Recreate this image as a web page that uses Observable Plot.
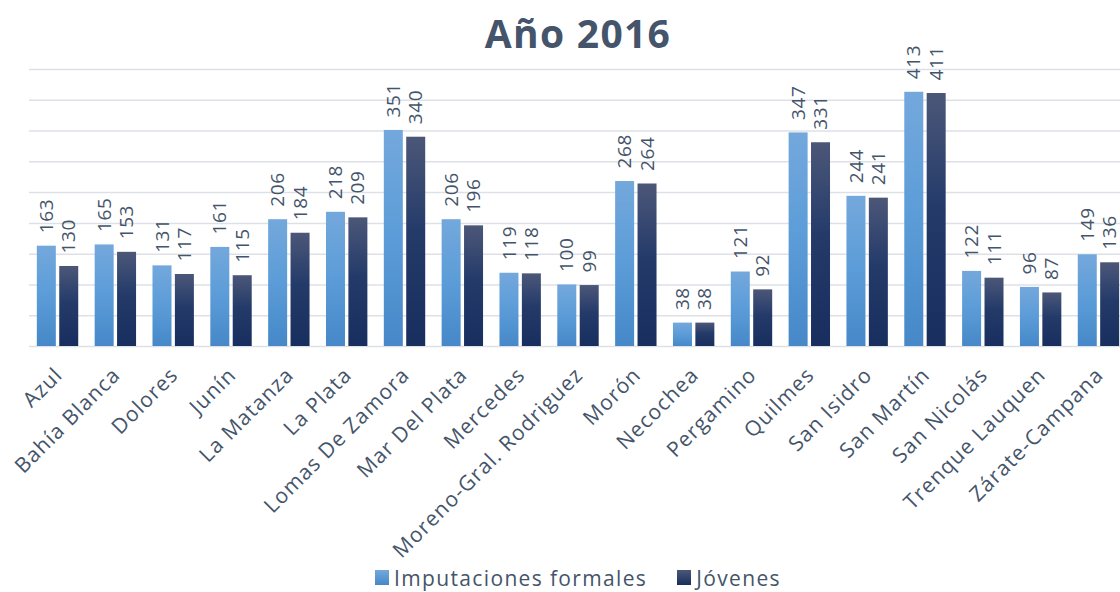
<!DOCTYPE html>
<html>
<head>
<meta charset="utf-8">
<script src="https://cdn.jsdelivr.net/npm/d3@7"></script>
<script src="https://cdn.jsdelivr.net/npm/@observablehq/plot@0.6"></script>
<style>
  html, body { margin: 0; padding: 0; background: #fff; overflow: hidden; }
  #wrap { position: relative; width: 1120px; height: 592px; font-family: "Open Sans", sans-serif; color: #44546a; }
  #title { position: absolute; left: 18px; width: 1120px; top: 8px; text-align: center; font-size: 39px; letter-spacing: 1.3px; font-weight: 700; color: #44546a; line-height: 50px; z-index: 2; }
  #chart { position: absolute; left: 0; top: 0; }
  #legend { position: absolute; left: 18px; width: 1120px; top: 564px; text-align: center; font-size: 21px; letter-spacing: 1.35px; line-height: 26px; }
  .item { display: inline-flex; align-items: center; margin: 0 15px; }
  .sw { display: inline-block; width: 14px; height: 15px; margin-right: 5px; }
</style>
</head>
<body>
<div id="wrap">
  <div id="title">Año 2016</div>
  <div id="chart"></div>
  <div id="legend"></div>
</div>
<script>
const categories = ["Azul", "Bahía Blanca", "Dolores", "Junín", "La Matanza", "La Plata", "Lomas De Zamora", "Mar Del Plata", "Mercedes", "Moreno-Gral. Rodriguez", "Morón", "Necochea", "Pergamino", "Quilmes", "San Isidro", "San Martín", "San Nicolás", "Trenque Lauquen", "Zárate-Campana"];
const imputaciones = [163, 165, 131, 161, 206, 218, 351, 206, 119, 100, 268, 38, 121, 347, 244, 413, 122, 96, 149];
const jovenes = [130, 153, 117, 115, 184, 209, 340, 196, 118, 99, 264, 38, 92, 331, 241, 411, 111, 87, 136];
const seriesNames = ["Imputaciones formales", "Jóvenes"];
const gridTicks = [0, 50, 100, 150, 200, 250, 300, 350, 400, 450];

const dataA = categories.map((c, i) => ({cat: c, v: imputaciones[i]}));
const dataB = categories.map((c, i) => ({cat: c, v: jovenes[i]}));

const textColor = "#44546a";
const font = "Open Sans";

const chart = Plot.plot({
  width: 1120,
  height: 560,
  marginTop: 69,
  marginBottom: 214,
  marginLeft: 29,
  marginRight: 0,
  style: {fontFamily: font, color: textColor, background: "transparent", overflow: "visible"},
  x: {type: "band", domain: categories, range: [9.2, 1146.8], padding: 0.6715, round: false, label: null},
  y: {domain: [0, 450], axis: null},
  marks: [
    Plot.ruleY(gridTicks, {stroke: "#dde1e7", strokeWidth: 1.5}),
    Plot.barY(dataA, {x: "cat", y: "v", fill: "url(#gradA)", dx: -11.2}),
    Plot.barY(dataB, {x: "cat", y: "v", fill: "url(#gradB)", dx: 11.2}),
    Plot.text(dataA, {x: "cat", y: "v", text: d => String(d.v), rotate: -90, textAnchor: "start", dx: -11.2, dy: -13, fontSize: 19, fill: textColor, className: "vlab"}),
    Plot.text(dataB, {x: "cat", y: "v", text: d => String(d.v), rotate: -90, textAnchor: "start", dx: 11.2, dy: -13, fontSize: 19, fill: textColor, className: "vlab"}),
    Plot.axisX({tickRotate: -45, tickSize: 0, tickPadding: 8, fontSize: 21, fill: textColor, label: null, dx: 1, dy: 17, className: "xlab"})
  ]
});

// gradients
const ns = "http://www.w3.org/2000/svg";
const defs = document.createElementNS(ns, "defs");
function grad(id, stops) {
  const g = document.createElementNS(ns, "linearGradient");
  g.setAttribute("id", id);
  g.setAttribute("x1", "0"); g.setAttribute("y1", "0");
  g.setAttribute("x2", "0"); g.setAttribute("y2", "1");
  for (const [o, c] of stops) {
    const s = document.createElementNS(ns, "stop");
    s.setAttribute("offset", o);
    s.setAttribute("stop-color", c);
    g.appendChild(s);
  }
  defs.appendChild(g);
}
grad("gradA", [["0", "#74a8dc"], ["0.5", "#5b9cd8"], ["1", "#4688c8"]]);
grad("gradB", [["0", "#4c5778"], ["0.45", "#243b6a"], ["1", "#182e5e"]]);
chart.insertBefore(defs, chart.firstChild);
chart.querySelectorAll(".vlab text").forEach(t => t.style.letterSpacing = "0.6px");
chart.querySelectorAll(".xlab text").forEach(t => t.style.letterSpacing = "1.1px");

document.getElementById("chart").appendChild(chart);

const legend = document.getElementById("legend");
const swatches = ["linear-gradient(#74a8dc, #4688c8)", "linear-gradient(#4c5778, #182e5e)"];
seriesNames.forEach((name, i) => {
  const item = document.createElement("span");
  item.className = "item";
  const sw = document.createElement("span");
  sw.className = "sw";
  sw.style.background = swatches[i];
  item.appendChild(sw);
  item.appendChild(document.createTextNode(name));
  legend.appendChild(item);
});
</script>
</body>
</html>
